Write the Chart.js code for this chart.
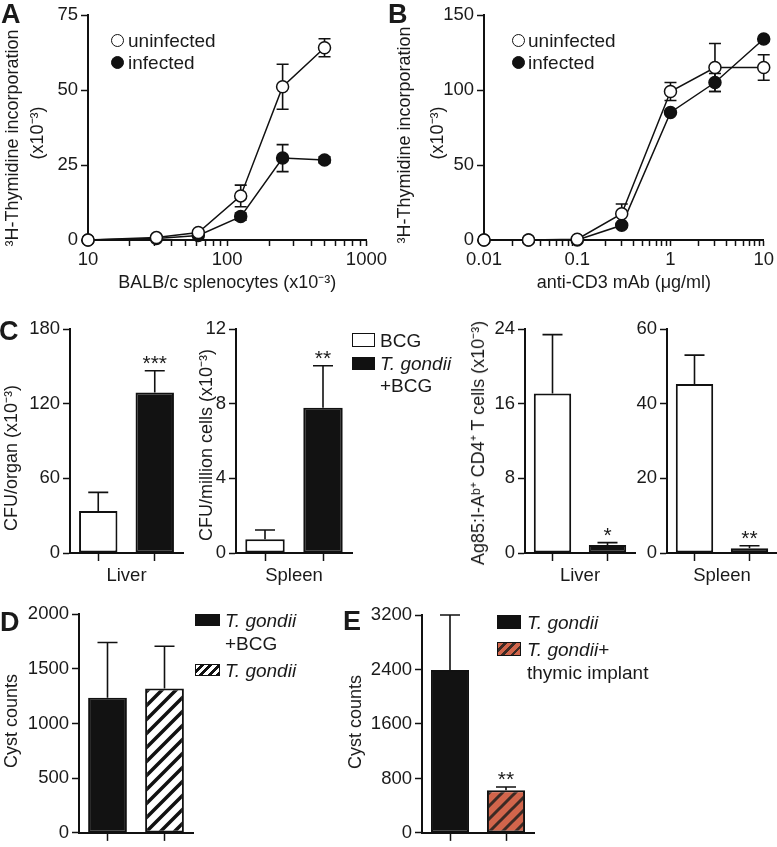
<!DOCTYPE html>
<html>
<head>
<meta charset="utf-8">
<script src="https://cdn.jsdelivr.net/npm/chart.js@4.4.1/dist/chart.umd.min.js"></script>
<style>
  body { margin: 0; background: #fff; }
  #fig { position: relative; width: 777px; height: 847px; overflow: hidden;
         font-family: "Liberation Sans", Arial, sans-serif; color: #1a1a1a; }
  #fig canvas { position: absolute; }
  .t { position: absolute; white-space: nowrap; font-size: 19px; line-height: 1; }
  .yt { position: absolute; white-space: nowrap; font-size: 18px; line-height: 1;
        transform: translate(-50%, -50%) rotate(-90deg); }
  .letter { position: absolute; font-weight: bold; font-size: 27px; line-height: 1; }
  .dot { position: absolute; width: 13px; height: 13px; box-sizing: border-box;
         border: 1.5px solid #111; border-radius: 50%; }
  .box { position: absolute; box-sizing: border-box; border: 1.5px solid #111; }
  i { font-style: italic; }
</style>
</head>
<body>
<div id="fig">
  <canvas id="cA" width="390" height="295" style="left:0;top:0"></canvas>
  <canvas id="cB" width="387" height="295" style="left:390px;top:0"></canvas>
  <canvas id="cC1" width="195" height="290" style="left:0;top:300px"></canvas>
  <canvas id="cC2" width="171" height="290" style="left:194px;top:300px"></canvas>
  <canvas id="cC3" width="184" height="290" style="left:466px;top:300px"></canvas>
  <canvas id="cC4" width="142" height="290" style="left:635px;top:300px"></canvas>
  <canvas id="cD" width="200" height="247" style="left:0;top:600px"></canvas>
  <canvas id="cE" width="206" height="247" style="left:344px;top:600px"></canvas>

  <div class="letter" style="left:1px;top:1px">A</div>
  <div class="letter" style="left:388px;top:1px">B</div>
  <div class="letter" style="left:-1px;top:318px">C</div>
  <div class="letter" style="left:0;top:609px">D</div>
  <div class="letter" style="left:343px;top:608px">E</div>

  <!-- y axis titles -->
  <div class="yt" style="left:12px;top:138px">³H-Thymidine incorporation</div>
  <div class="yt" style="left:37px;top:133px">(x10⁻³)</div>
  <div class="yt" style="left:404px;top:135px">³H-Thymidine incorporation</div>
  <div class="yt" style="left:437px;top:133px">(x10⁻³)</div>
  <div class="yt" style="left:11px;top:458px">CFU/organ (x10⁻³)</div>
  <div class="yt" style="left:206px;top:445px">CFU/million cells (x10⁻³)</div>
  <div class="yt" style="left:478px;top:443px">Ag85:I-Aᵇ⁺ CD4⁺ T cells (x10⁻³)</div>
  <div class="yt" style="left:11px;top:721px">Cyst counts</div>
  <div class="yt" style="left:355px;top:722px">Cyst counts</div>

  <!-- legends -->
  <div class="dot" style="left:111px;top:34px;background:#fff"></div>
  <div class="t" style="left:128px;top:31px">uninfected</div>
  <div class="dot" style="left:111px;top:56px;background:#111"></div>
  <div class="t" style="left:128px;top:53px">infected</div>

  <div class="dot" style="left:512px;top:34px;background:#fff"></div>
  <div class="t" style="left:528px;top:31px">uninfected</div>
  <div class="dot" style="left:512px;top:56px;background:#111"></div>
  <div class="t" style="left:528px;top:53px">infected</div>

  <div class="box" style="left:352px;top:333px;width:23px;height:14px;background:#fff"></div>
  <div class="t" style="left:380px;top:331px">BCG</div>
  <div class="box" style="left:352px;top:357px;width:23px;height:13px;background:#111"></div>
  <div class="t" style="left:380px;top:354px"><i>T. gondii</i></div>
  <div class="t" style="left:380px;top:376px">+BCG</div>

  <div class="box" style="left:195px;top:614px;width:25px;height:12px;background:#111"></div>
  <div class="t" style="left:225px;top:611px"><i>T. gondii</i></div>
  <div class="t" style="left:225px;top:634px">+BCG</div>
  <div class="box" style="left:195px;top:664px;width:25px;height:12px;background:repeating-linear-gradient(135deg,#fff 0 3px,#111 3px 6px)"></div>
  <div class="t" style="left:225px;top:661px"><i>T. gondii</i></div>

  <div class="box" style="left:497px;top:615px;width:24px;height:14px;background:#111"></div>
  <div class="t" style="left:527px;top:613px"><i>T. gondii</i></div>
  <div class="box" style="left:497px;top:642px;width:24px;height:14px;background:repeating-linear-gradient(135deg,#d1654b 0 4px,#3b2a24 4px 6.5px)"></div>
  <div class="t" style="left:527px;top:640px"><i>T. gondii</i>+</div>
  <div class="t" style="left:527px;top:663px">thymic implant</div>
</div>

<script>
const INK = '#111';
const TXT = '#1a1a1a';
Chart.defaults.font.family = '"Liberation Sans", Arial, sans-serif';
Chart.defaults.color = TXT;

// A: mixed lymphocyte reaction
const aDoses = [10, 31, 62, 125, 250, 500];
const aUninf = [0, 0.8, 2.5, 14.7, 51.1, 64.1];
const aUninfErr = [0, 0, 0, 3.6, 7.5, 3];
const aInf = [0, 0.5, 1.5, 7.8, 27.3, 26.7];
const aInfErr = [0, 0, 0, 1.2, 4.5, 1];
const aXLabels = [10, 100, 1000];
const aYTicks = [0, 25, 50, 75];

// B: anti-CD3
const bDoses = [0.01, 0.03, 0.1, 0.3, 1, 3, 10];
const bUninf = [0, 0, 0.5, 17.5, 99, 115, 115];
const bUninfErr = [0, 0, 0, 6.5, 6, 16, 8.5];
const bInf = [0, 0, 0, 9.8, 85, 105, 134];
const bInfErr = [0, 0, 0, 0, 0, 6, 0];
const bXLabels = [0.01, 0.1, 1, 10];
const bYTicks = [0, 50, 100, 150];

// C: BCG vs T. gondii + BCG
const cGroups = ['BCG', 'T. gondii +BCG'];
const cLiverCfu = [33.7, 129];
const cLiverCfuErr = [15, 17.5];
const cLiverCfuStars = ['', '***'];
const cSpleenCfu = [0.73, 7.78];
const cSpleenCfuErr = [0.5, 2.25];
const cSpleenCfuStars = ['', '**'];
const cLiverAg = [17.1, 0.86];
const cLiverAgErr = [6.3, 0.25];
const cLiverAgStars = ['', '*'];
const cSpleenAg = [45.3, 1.26];
const cSpleenAgErr = [7.7, 0.7];
const cSpleenAgStars = ['', '**'];

// D and E: cyst counts
const dGroups = ['T. gondii +BCG', 'T. gondii'];
const dCysts = [1235, 1321];
const dCystsErr = [505, 385];
const eGroups = ['T. gondii', 'T. gondii+ thymic implant'];
const eCysts = [2394, 626];
const eCystsErr = [806, 47];
const eStars = ['', '**'];

function hatch(bg, fg, size, lw) {
  const c = document.createElement('canvas');
  c.width = c.height = size;
  const g = c.getContext('2d');
  g.fillStyle = bg;
  g.fillRect(0, 0, size, size);
  g.strokeStyle = fg;
  g.lineWidth = lw;
  g.beginPath();
  g.moveTo(0, size); g.lineTo(size, 0);
  g.moveTo(-size / 2, size / 2); g.lineTo(size / 2, -size / 2);
  g.moveTo(size / 2, size * 1.5); g.lineTo(size * 1.5, size / 2);
  g.stroke();
  return g.createPattern(c, 'repeat');
}

function drawErrors(chart, both) {
  const ctx = chart.ctx;
  const y = chart.scales.y;
  chart.data.datasets.forEach((ds, i) => {
    if (!ds.errors) return;
    const meta = chart.getDatasetMeta(i);
    meta.data.forEach((el, j) => {
      const raw = ds.data[j];
      const v = typeof raw === 'object' ? raw.y : raw;
      const e = ds.errors[j];
      const top = y.getPixelForValue(v + e);
      const cap = both ? 6 : 10;
      ctx.save();
      ctx.strokeStyle = INK;
      ctx.lineWidth = 1.6;
      if (e) {
        const bot = both ? y.getPixelForValue(v - e) : el.y;
        ctx.beginPath();
        ctx.moveTo(el.x, bot); ctx.lineTo(el.x, top);
        ctx.moveTo(el.x - cap, top); ctx.lineTo(el.x + cap, top);
        if (both) { ctx.moveTo(el.x - cap, bot); ctx.lineTo(el.x + cap, bot); }
        ctx.stroke();
      }
      if (ds.stars && ds.stars[j]) {
        ctx.fillStyle = TXT;
        ctx.font = '21px "Liberation Sans", Arial, sans-serif';
        ctx.textAlign = 'center';
        ctx.textBaseline = 'alphabetic';
        ctx.fillText(ds.stars[j], el.x, top - 1);
      }
      ctx.restore();
    });
  });
}

const errorBars = {
  id: 'errorBars',
  beforeDatasetsDraw(chart) { if (chart.config.type === 'line') drawErrors(chart, true); },
  afterDatasetsDraw(chart) { if (chart.config.type === 'bar') drawErrors(chart, false); }
};

function yScale(ticks, width) {
  return {
    min: ticks[0],
    max: ticks[ticks.length - 1],
    afterFit: s => { s.width = width; },
    afterBuildTicks: s => { s.ticks = ticks.map(v => ({ value: v })); },
    border: { color: INK, width: 2 },
    grid: { drawOnChartArea: false, color: INK, tickLength: 7, tickWidth: 1.5 },
    ticks: { color: TXT, font: { size: 18.5 }, padding: 3, callback: v => String(v) }
  };
}

function logTicks(labels) {
  const out = [];
  labels.forEach((d, i) => {
    if (i === labels.length - 1) { out.push({ value: d }); return; }
    for (let k = 1; k <= 9; k++) out.push({ value: d * k });
  });
  return out;
}

function logX(min, max, labels, title) {
  return {
    type: 'logarithmic',
    min: min,
    max: max,
    afterFit: s => { s.height = 55; },
    afterBuildTicks: s => { s.ticks = logTicks(labels); },
    border: { color: INK, width: 2 },
    grid: { drawOnChartArea: false, color: INK, tickLength: 6, tickWidth: 1.5 },
    ticks: {
      autoSkip: false, maxRotation: 0, color: TXT, font: { size: 18.5 }, padding: 3,
      callback: v => {
        const hit = labels.find(l => Math.abs(l - v) / l < 1e-6);
        return hit === undefined ? '' : String(hit);
      }
    },
    title: { display: true, text: title, color: TXT, font: { size: 18 }, padding: { top: 0, bottom: 1 } }
  };
}

function barX(height, title) {
  return {
    afterFit: s => { s.height = height; },
    border: { color: INK, width: 2 },
    grid: { offset: false, drawOnChartArea: false, color: INK, tickLength: 8, tickWidth: 1.5 },
    ticks: { callback: () => '', padding: 0 },
    title: title
      ? { display: true, text: title, color: TXT, font: { size: 18.5 }, padding: { top: 0, bottom: 3 } }
      : { display: false }
  };
}

function lineSet(xs, ys, errs, fill) {
  return {
    data: xs.map((x, i) => ({ x: x, y: ys[i] })),
    errors: errs,
    borderColor: INK,
    borderWidth: 1.5,
    pointRadius: 6,
    pointBackgroundColor: fill,
    pointBorderColor: INK,
    pointBorderWidth: 1.5,
    tension: 0,
    clip: false
  };
}

const baseOpts = {
  responsive: false,
  animation: false,
  plugins: { legend: { display: false }, tooltip: { enabled: false } }
};

function lineChart(id, xs, uninf, uninfErr, inf, infErr, x, y, pad) {
  new Chart(document.getElementById(id), {
    type: 'line',
    data: { datasets: [lineSet(xs, uninf, uninfErr, '#fff'), lineSet(xs, inf, infErr, INK)] },
    options: Object.assign({}, baseOpts, {
      layout: { padding: pad },
      scales: { x: x, y: y }
    }),
    plugins: [errorBars]
  });
}

function barChart(id, labels, values, errs, stars, colors, x, y, pad) {
  new Chart(document.getElementById(id), {
    type: 'bar',
    data: {
      labels: labels,
      datasets: [{
        data: values,
        errors: errs,
        stars: stars,
        backgroundColor: colors,
        borderColor: INK,
        borderWidth: 2,
        borderSkipped: false,
        barPercentage: 0.68,
        categoryPercentage: 1
      }]
    },
    options: Object.assign({}, baseOpts, {
      layout: { padding: pad },
      scales: { x: x, y: y }
    }),
    plugins: [errorBars]
  });
}

lineChart('cA', aDoses, aUninf, aUninfErr, aInf, aInfErr,
  logX(10, 1000, aXLabels, 'BALB/c splenocytes (x10⁻³)'),
  yScale(aYTicks, 88),
  { top: 15, right: 20, left: 0, bottom: 0 });

lineChart('cB', bDoses, bUninf, bUninfErr, bInf, bInfErr,
  logX(0.01, 10, bXLabels, 'anti-CD3 mAb (μg/ml)'),
  yScale(bYTicks, 94),
  { top: 15, right: 10, left: 0, bottom: 0 });

const wb = ['#fff', '#121212'];
barChart('cC1', cGroups, cLiverCfu, cLiverCfuErr, cLiverCfuStars, wb, barX(37, 'Liver'),
  yScale([0, 60, 120, 180], 70),
  { top: 29, right: 12, left: 0, bottom: 0 });
barChart('cC2', cGroups, cSpleenCfu, cSpleenCfuErr, cSpleenCfuStars, wb, barX(37, 'Spleen'),
  yScale([0, 4, 8, 12], 42),
  { top: 29, right: 13, left: 0, bottom: 0 });
barChart('cC3', cGroups, cLiverAg, cLiverAgErr, cLiverAgStars, wb, barX(37, 'Liver'),
  yScale([0, 8, 16, 24], 59),
  { top: 29, right: 15, left: 0, bottom: 0 });
barChart('cC4', cGroups, cSpleenAg, cSpleenAgErr, cSpleenAgStars, wb, barX(37, 'Spleen'),
  yScale([0, 20, 40, 60], 32),
  { top: 29, right: 0, left: 0, bottom: 0 });

barChart('cD', dGroups, dCysts, dCystsErr, ['', ''], ['#121212', hatch('#fff', INK, 14, 3.5)], barX(9),
  yScale([0, 500, 1000, 1500, 2000], 79),
  { top: 13, right: 7, left: 0, bottom: 0 });
barChart('cE', eGroups, eCysts, eCystsErr, eStars, ['#121212', hatch('#d1654b', '#3b2a24', 13, 3)], barX(7),
  yScale([0, 800, 1600, 2400, 3200], 78),
  { top: 15, right: 16, left: 0, bottom: 0 });
</script>
</body>
</html>
